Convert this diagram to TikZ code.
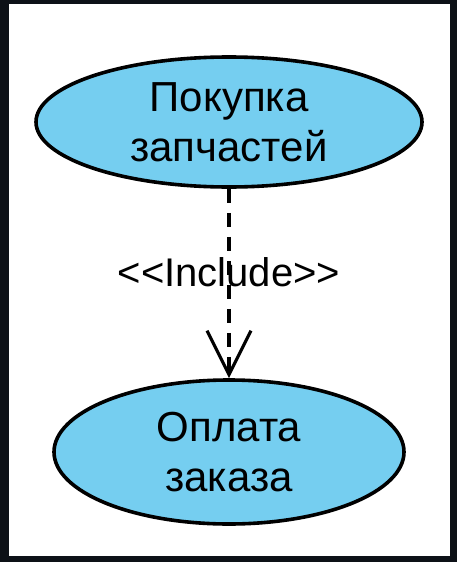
\documentclass[tikz,border=0pt]{standalone}
\usepackage{fontspec}
\setmainfont{Liberation Sans}
\usetikzlibrary{arrows.meta,positioning,shapes.geometric}

\begin{document}
\begin{tikzpicture}[x=1pt,y=-1pt,
    usecase/.style={ellipse,draw=black,line width=3.6pt,fill=ucblue,
      inner sep=0pt,align=center,font=\fontsize{42}{50}\selectfont},
    incl/.style={-{Straight Barb[length=44pt,width=44pt,line width=3.2pt]},
      line width=3.2pt,dash pattern=on 14pt off 10pt},
    lbl/.style={font=\fontsize{40}{46}\selectfont,inner sep=0pt}
  ]
    \definecolor{ucblue}{HTML}{75CEF0}
    \fill[fill={rgb,255:red,13;green,17;blue,23}] (0,0) rectangle (457,562);
    \fill[white] (9,4) rectangle (450,556);
    \useasboundingbox (0,0) rectangle (457,562);
    \node[usecase,minimum width=386pt,minimum height=130pt] (buy) at (229,122) {Покупка\\запчастей};
    \node[usecase,minimum width=350pt,minimum height=144pt] (pay) at (229,452) {Оплата\\заказа};
    \draw[incl] (buy.south) -- node[lbl,pos=0.44] {<{}<Include>{}>} (pay.north);
  \end{tikzpicture}
\end{document}
